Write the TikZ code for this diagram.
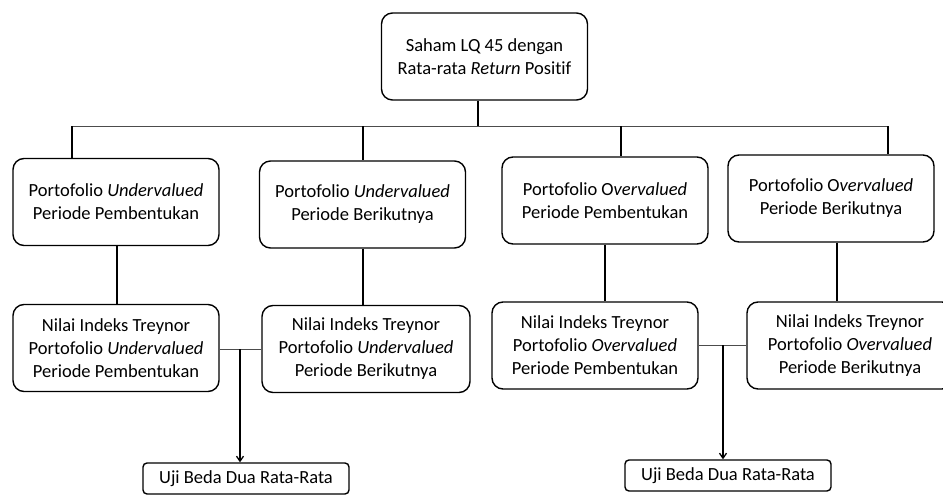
\documentclass[tikz,border=0pt]{standalone}
\usepackage{fontspec}
\setmainfont{Carlito}[Ligatures={NoCommon}]
\usetikzlibrary{arrows.meta}
\tikzset{
  box/.style={draw=black, line width=1.4pt, rounded corners=11pt, minimum width=206pt, minimum height=87pt, align=center, inner sep=2pt, font=\fontsize{18.5}{23}\selectfont},
  sbox/.style={draw=black, line width=1.4pt, rounded corners=4pt, minimum width=206pt, minimum height=31pt, align=center, inner sep=2pt, font=\fontsize{18.5}{23}\selectfont},
  conn/.style={line width=1.3pt, black},
  thin/.style={line width=0.6pt, black!70},
  arr/.style={line width=1.3pt, black, -{Straight Barb[length=5pt,width=7pt]}}
}
\begin{document}
\begin{tikzpicture}[x=1pt,y=-1pt]
\useasboundingbox (0,0) rectangle (943,495);
\node[box] (top) at (484.5,56.5) {Saham LQ 45 dengan\\Rata-rata \textit{Return} Positif};
\node[box] (A) at (116,202) {Portofolio \textit{Undervalued}\\Periode Pembentukan};
\node[box] (B) at (362.5,204.5) {Portofolio \textit{Undervalued}\\Periode Berikutnya};
\node[box] (C) at (605,200.5) {Portofolio O\textit{vervalued}\\Periode Pembentukan};
\node[box] (D) at (831,198.5) {Portofolio O\textit{vervalued}\\Periode Berikutnya};
\node[box] (E) at (116,348) {Nilai Indeks Treynor\\Portofolio \textit{Undervalued}\\Periode Pembentukan};
\node[box, minimum width=208pt] (F) at (366,349) {Nilai Indeks Treynor\\Portofolio \textit{Undervalued}\\Periode Berikutnya};
\node[box] (G) at (595,345.5) {Nilai Indeks Treynor\\Portofolio \textit{Overvalued}\\Periode Pembentukan};
\node[box] (H) at (850,345.5) {Nilai Indeks Treynor\\Portofolio \textit{Overvalued}\\Periode Berikutnya};
\node[sbox] (U1) at (246,478.5) {Uji Beda Dua Rata-Rata};
\node[sbox] (U2) at (728,475.5) {Uji Beda Dua Rata-Rata};
% bus
\coordinate (bT) at (478,126);
\coordinate (bA) at (72,126);
\coordinate (bB) at (363,126);
\coordinate (bC) at (621,126);
\coordinate (bD) at (888,126);
\draw[thin] (bA) -- (bD);
\draw[conn] (top.south -| bT) -- (bT);
\draw[conn] (bA) -- (bA |- A.north);
\draw[conn] (bB) -- (bB |- B.north);
\draw[conn] (bC) -- (bC |- C.north);
\draw[conn] (bD) -- (bD |- D.north);
% row1 -> row2
\coordinate (vA) at (117,0);
\coordinate (vD) at (837,0);
\draw[conn] (vA |- A.south) -- (vA |- E.north);
\draw[conn] (B.south -| bB) -- (F.north -| bB);
\draw[conn] (C.south) -- (C.south |- G.north);
\draw[conn] (vD |- D.south) -- (vD |- H.north);
% row2 pairs
\coordinate (m1) at (240,349);
\coordinate (m2) at (723,345);
\draw[thin] (E.east |- m1) -- (F.west |- m1);
\draw[thin] (G.east |- m2) -- (H.west |- m2);
\draw[arr] (m1) -- (m1 |- U1.north);
\draw[arr] (m2) -- (m2 |- U2.north);
\end{tikzpicture}
\end{document}
